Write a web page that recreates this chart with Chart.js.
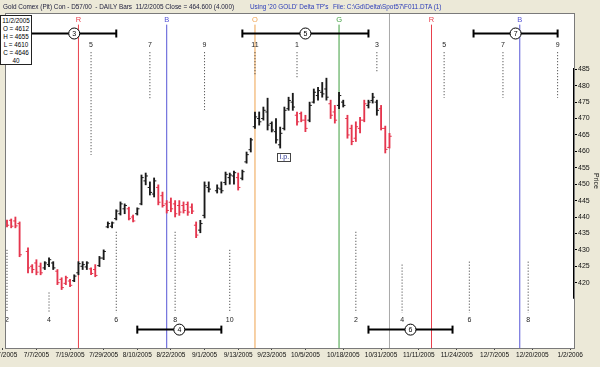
<!DOCTYPE html>
<html>
<head>
<meta charset="utf-8">
<script src="https://cdn.jsdelivr.net/npm/chart.js@4.4.1/dist/chart.umd.min.js"></script>
<style>
  html, body { margin: 0; padding: 0; background: #ECE9D8; }
  #wrap { position: relative; width: 600px; height: 367px; overflow: hidden; background: #ECE9D8; }
  #chartBox { position: absolute; left: 0; top: 0; width: 600px; height: 367px; }
  #title { position: absolute; left: 0; top: 0; width: 600px; height: 13px; font-family: "Liberation Sans", Arial, sans-serif; font-size: 6.4px; line-height: 13px; white-space: nowrap; z-index: 2; }
  #title span { position: absolute; top: 0; }
  #info { position: absolute; left: 0; top: 15px; width: 32px; height: 50px; border: 1px solid #222; background: #fff; font-family: "Liberation Sans", Arial, sans-serif; font-size: 6.3px; line-height: 8.1px; text-align: center; z-index: 2; padding-top: 1px; box-sizing: border-box; }
</style>
</head>
<body>
<div id="wrap">
  <div id="chartBox"><canvas id="c"></canvas></div>
  <div id="title">
    <span style="left:3px;color:#1b1b3a">Gold Comex (Pit) Con - D57/00&nbsp; - DAILY Bars&nbsp; 11/2/2005 Close = 464.600 (4.000)</span>
    <span style="left:250px;color:#2a3bb8">Using '20 GOLD' Delta TP's</span>
    <span style="left:333px;color:#2a3bb8">File: C:\Gd\Delta\Spot57\F011.DTA (1)</span>
  </div>
  <div id="info">11/2/2005<br>O = 4612<br>H = 4655<br>L = 4610<br>C = 4646<br>40</div>
</div>
<script>
// ================= DATA =================
// Daily bars, indexed by weekday (6/28/2005 = 0). null = exchange holiday (7/4, 9/5).
const high  = [439.1,439.4,440.0,438.5,null,430.6,425.5,427.0,426.0,426.4,
               427.6,426.4,424.0,421.5,422.0,421.0,422.4,426.4,426.4,426.4,
               424.5,425.5,428.0,430.0,438.5,438.5,442.2,444.6,444.0,443.0,
               440.6,442.8,452.8,453.4,450.7,451.9,449.8,447.6,445.0,445.8,
               445.0,445.0,444.6,444.6,444.0,438.5,439.0,450.7,450.7,null,
               449.8,450.7,453.7,453.4,454.0,453.4,454.3,459.8,464.0,472.0,
               472.0,473.5,476.2,469.0,470.0,467.4,473.5,476.5,477.7,472.0,
               472.0,471.0,475.0,479.0,479.5,481.0,482.3,475.6,474.0,478.0,
               475.6,471.0,468.0,469.0,470.4,475.6,475.6,477.7,475.6,474.0,
               467.7,465.5];
const low   = [437.0,436.7,436.7,427.9,null,423.0,423.0,422.4,422.4,424.0,
               424.9,424.0,419.4,417.9,419.4,418.8,420.3,422.4,424.0,424.0,
               422.4,421.8,424.9,427.0,436.7,436.7,439.1,440.6,441.0,439.1,
               438.5,440.6,443.7,449.8,446.7,446.1,443.7,443.0,441.2,441.6,
               440.0,440.5,441.2,440.5,441.0,433.7,435.2,439.7,447.6,null,
               447.3,447.3,449.8,450.0,450.0,448.2,451.3,456.4,459.8,467.0,
               468.0,469.5,466.5,465.9,462.5,461.0,466.5,472.5,472.5,468.0,
               469.0,466.0,469.0,474.7,475.6,476.5,475.6,470.0,468.6,473.0,
               473.5,464.0,462.0,463.0,465.6,469.0,473.2,474.7,471.0,466.5,
               459.5,461.0];
const open  = [438.5,439.0,438.8,438.0,null,429.5,425.0,426.0,425.0,424.5,
               425.5,426.0,423.5,421.0,419.8,420.5,420.6,423.0,425.0,424.8,
               424.2,424.0,425.2,427.5,437.0,437.2,439.5,441.0,442.5,442.5,
               440.0,441.0,444.0,451.0,449.0,447.0,449.0,446.5,444.0,444.5,
               444.0,443.5,443.5,443.8,443.0,437.5,436.0,440.5,449.0,null,
               448.0,448.5,450.5,452.0,452.5,452.0,451.8,456.8,460.5,467.5,
               470.0,470.0,472.0,468.5,466.0,462.0,467.0,473.0,475.0,471.0,
               471.5,469.5,469.5,475.0,477.0,478.0,479.0,474.5,472.0,474.0,
               475.0,470.0,467.0,464.0,467.0,469.5,474.0,475.5,475.0,473.0,
               467.0,461.2];
const close = [437.5,437.2,437.3,428.5,null,424.5,424.0,423.2,423.0,426.0,
               427.0,424.5,420.0,418.5,421.5,419.2,422.0,425.8,425.5,426.0,
               422.8,422.2,427.5,429.5,438.0,438.2,441.8,444.0,443.5,439.5,
               438.8,442.5,452.0,452.5,447.5,451.0,444.5,443.5,442.0,442.5,
               441.0,441.5,442.0,441.5,441.8,434.5,438.0,449.5,448.5,null,
               448.8,448.0,453.0,452.8,453.5,449.0,453.8,459.0,463.5,470.5,
               469.0,472.5,468.0,466.5,463.5,465.5,472.5,475.5,473.5,469.0,
               469.5,467.0,474.0,478.0,478.5,477.5,476.5,471.0,469.5,477.0,
               474.0,465.0,463.0,467.5,469.5,474.5,475.0,476.5,472.5,467.0,
               460.6,464.6];
// bar colouring as printed: u = black, d = red
const tone  = "ddddxddddu" + "uudddduuuu" + "dduuuuuuud" +
              "duuuuudddd" + "dddddduuux" + "uuuuuduuuu" +
              "uuuuuuuuud" + "dduuuuuddu" + "uddddduuud" + "dd";

// x-axis date labels (bar index -> date)
const dateTickIndex  = [-1, 7, 15, 23, 31, 39, 47, 55, 63, 71, 80, 89, 98, 107, 116, 125, 134];
const dateTickLabels = ['6/27/2005','7/7/2005','7/19/2005','7/29/2005','8/10/2005','8/22/2005',
                        '9/1/2005','9/13/2005','9/23/2005','10/5/2005','10/18/2005','10/31/2005',
                        '11/11/2005','11/24/2005','12/7/2005','12/20/2005','1/2/2006'];
const priceTicks = [420, 425, 430, 435, 440, 445, 450, 455, 460, 465, 470, 475, 480, 485];

// Delta turning-point lines
const tpIndex  = [17, 38, 59, 79, 91, 101, 122];
const tpLetter = ['R', 'B', 'O', 'G', '', 'R', 'B'];

// upper cycle counts (odd) : bar index, label, lower end of dotted line (price)
const upperIdx   = [20, 34, 47, 59, 69, 88, 104, 118, 131];
const upperLabel = ['5', '7', '9', '11', '1', '3', '5', '7', '9'];
const upperEnd   = [458.9, 475.6, 472.6, 483.2, 482.3, 484.0, 476.3, 476.3, 476.3];
// lower cycle counts (even)
const lowerIdx   = [0, 10, 26, 40, 53, 83, 94, 110, 124];
const lowerLabel = ['2', '4', '6', '8', '10', '2', '4', '6', '8'];
const lowerStart = [430.0, 417.0, 435.5, 435.5, 430.0, 435.5, 425.5, 426.4, 426.4];

// time bands: left, centre, right (bar index), label
const upperBandL = [-3, 56, 111], upperBandC = [16, 71, 121], upperBandR = [26, 86, 131], upperBandLabel = ['3', '5', '7'];
const lowerBandL = [31, 86],      lowerBandC = [41, 96],      lowerBandR = [51, 106],     lowerBandLabel = ['4', '6'];

// "i.p." marker
const ipIndex = 66, ipPrice = 458.4;

// ================= LAYOUT / STYLE =================
const X_MIN = -0.236, X_MAX = 134.9;
const Y_MIN = 400.1,  Y_MAX = 501.84;
const UPPER_BAND_Y = 495.9, LOWER_BAND_Y = 405.7;
const UPPER_NUM_Y = 492.3, LOWER_NUM_Y = 408.7;
const UPPER_DOT_TOP = 490.2, LOWER_DOT_BOTTOM = 410.8;
const LETTER_Y = 499.9, TP_LINE_TOP = 498.6;
const AXIS_LINE = [415.1, 485.4];
const RED = '#E5364E', BLACK = '#1a1a1a';
const TP_COLORS = { R: '#E8404C', B: '#5656D6', O: '#EFA24E', G: '#3E9E3E', '': '#A8A8A8' };
const FONT = '"Liberation Sans", Arial, sans-serif';

const toneColor = t => (t === 'd' ? RED : BLACK);

// ================= DATASETS =================
const hl = [], op = [], cl = [], barCol = [];
for (let i = 0; i < high.length; i++) {
  if (high[i] == null) continue;
  hl.push({ x: i, y: [low[i], high[i]] });
  op.push({ x: i - 0.27, y: open[i] });
  cl.push({ x: i + 0.27, y: close[i] });
  barCol.push(toneColor(tone[i]));
}

const datasets = [];

function addBand(L, C, R, yv) {
  datasets.push({
    type: 'line', data: [{ x: L, y: yv }, { x: C, y: yv }, { x: R, y: yv }],
    borderColor: '#000', borderWidth: 2, tension: 0, fill: false,
    pointStyle: ['line', 'circle', 'line'], pointRotation: [90, 0, 90],
    pointRadius: [4, 5.5, 4], pointBorderWidth: [2, 1, 2],
    pointBorderColor: '#000', pointBackgroundColor: ['#000', '#fff', '#000']
  });
}
upperBandC.forEach((c, k) => addBand(upperBandL[k], c, upperBandR[k], UPPER_BAND_Y));
lowerBandC.forEach((c, k) => addBand(lowerBandL[k], c, lowerBandR[k], LOWER_BAND_Y));

datasets.push({ type: 'line', data: op, showLine: false, pointStyle: 'line', pointRadius: 1.1,
  pointBorderWidth: 1, pointBorderColor: barCol, pointBackgroundColor: barCol });
datasets.push({ type: 'line', data: cl, showLine: false, pointStyle: 'line', pointRadius: 1.1,
  pointBorderWidth: 1, pointBorderColor: barCol, pointBackgroundColor: barCol });
datasets.push({ type: 'bar', data: hl, backgroundColor: barCol, borderWidth: 0, barThickness: 1.2 });

upperIdx.forEach((c, k) => datasets.push({
  type: 'line', data: [{ x: c, y: UPPER_DOT_TOP }, { x: c, y: upperEnd[k] }],
  borderColor: '#333', borderWidth: 1, borderDash: [1, 2], pointRadius: 0, fill: false }));
lowerIdx.forEach((c, k) => datasets.push({
  type: 'line', data: [{ x: c, y: lowerStart[k] }, { x: c, y: LOWER_DOT_BOTTOM }],
  borderColor: '#333', borderWidth: 1, borderDash: [1, 2], pointRadius: 0, fill: false }));

tpIndex.forEach((c, k) => datasets.push({
  type: 'line', data: [{ x: c, y: Y_MIN }, { x: c, y: tpLetter[k] ? TP_LINE_TOP : Y_MAX }],
  borderColor: TP_COLORS[tpLetter[k]], borderWidth: 1, pointRadius: 0, fill: false }));

datasets.push({ type: 'line', data: [{ x: X_MAX, y: AXIS_LINE[0] }, { x: X_MAX, y: AXIS_LINE[1] }],
  borderColor: '#000', borderWidth: 2, pointRadius: 0, fill: false, clip: false });

// ================= PLUGINS =================
const frame = {
  id: 'frame',
  beforeDraw(chart) {
    const { ctx, chartArea: a } = chart;
    ctx.save();
    ctx.fillStyle = '#fff';
    ctx.fillRect(a.left, a.top, a.right - a.left, a.bottom - a.top);
    ctx.restore();
  },
  afterDraw(chart) {
    const { ctx, chartArea: a } = chart;
    ctx.save();
    ctx.strokeStyle = '#7a7a7a'; ctx.lineWidth = 1;
    ctx.strokeRect(a.left - 0.5, a.top - 0.5, a.right - a.left + 1, a.bottom - a.top + 1);
    ctx.restore();
  }
};

const labels = {
  id: 'labels',
  afterDatasetsDraw(chart) {
    const { ctx, scales: { x, y } } = chart;
    ctx.save();
    ctx.textAlign = 'center'; ctx.textBaseline = 'middle';
    ctx.font = '7.5px ' + FONT;
    tpIndex.forEach((c, k) => {
      if (!tpLetter[k]) return;
      ctx.fillStyle = TP_COLORS[tpLetter[k]];
      ctx.fillText(tpLetter[k], x.getPixelForValue(c), y.getPixelForValue(LETTER_Y));
    });
    ctx.font = '7px ' + FONT;
    ctx.fillStyle = '#222';
    upperIdx.forEach((c, k) => ctx.fillText(upperLabel[k], x.getPixelForValue(c), y.getPixelForValue(UPPER_NUM_Y)));
    lowerIdx.forEach((c, k) => ctx.fillText(lowerLabel[k], x.getPixelForValue(c), y.getPixelForValue(LOWER_NUM_Y)));
    ctx.fillStyle = '#000';
    upperBandC.forEach((c, k) => ctx.fillText(upperBandLabel[k], x.getPixelForValue(c), y.getPixelForValue(UPPER_BAND_Y) + 0.5));
    lowerBandC.forEach((c, k) => ctx.fillText(lowerBandLabel[k], x.getPixelForValue(c), y.getPixelForValue(LOWER_BAND_Y) + 0.5));
    const px = x.getPixelForValue(ipIndex), py = y.getPixelForValue(ipPrice);
    ctx.fillStyle = '#fff'; ctx.fillRect(px - 7, py - 4, 14, 8);
    ctx.strokeStyle = '#444'; ctx.lineWidth = 1; ctx.strokeRect(Math.round(px - 7) + 0.5, Math.round(py - 4) + 0.5, 13, 8);
    ctx.fillStyle = '#1f2a8a';
    ctx.fillText('i.p.', px, py + 0.5);
    ctx.restore();
  }
};

// ================= CHART =================
new Chart(document.getElementById('c'), {
  type: 'bar',
  data: { datasets },
  options: {
    responsive: true, maintainAspectRatio: false, animation: false, events: [],
    layout: { padding: { top: 14, left: 1, right: 0, bottom: 0 } },
    plugins: { legend: { display: false }, tooltip: { enabled: false }, title: { display: false } },
    scales: {
      x: {
        type: 'linear', position: 'bottom', min: X_MIN, max: X_MAX, offset: false,
        afterBuildTicks: s => { s.ticks = dateTickIndex.map(v => ({ value: v })); },
        afterFit: s => { s.height = 19; s.paddingLeft = 0; s.paddingRight = 0; },
        ticks: { autoSkip: false, maxRotation: 0, minRotation: 0, padding: 1, color: '#111',
                 font: { size: 6.5, family: FONT },
                 callback: (v, i) => dateTickLabels[i] },
        grid: { offset: false, drawOnChartArea: false, drawTicks: true, tickLength: 2, color: '#444' },
        border: { display: false }
      },
      y: {
        type: 'linear', position: 'right', min: Y_MIN, max: Y_MAX,
        afterBuildTicks: s => { s.ticks = priceTicks.map(v => ({ value: v })); },
        afterFit: s => { s.width = 26; s.paddingTop = 0; s.paddingBottom = 0; },
        ticks: { padding: 1, color: '#111', font: { size: 7, family: FONT } },
        grid: { drawOnChartArea: false, drawTicks: true, tickLength: 3, color: '#000' },
        border: { display: false },
        title: { display: true, text: 'Price', color: '#111', padding: { top: 0, bottom: 1 }, font: { size: 7, family: FONT } }
      }
    }
  },
  plugins: [frame, labels]
});
</script>
</body>
</html>
